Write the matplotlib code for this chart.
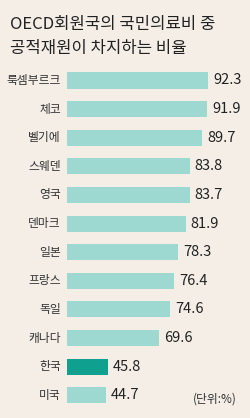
import matplotlib.pyplot as plt

plt.rcParams['font.family'] = ['Noto Sans CJK KR', 'DejaVu Sans']

countries = ['룩셈부르크', '체코', '벨기에', '스웨덴', '영국', '덴마크',
             '일본', '프랑스', '독일', '캐나다', '한국', '미국']
values = [92.3, 91.9, 89.7, 83.8, 83.7, 81.9, 78.3, 76.4, 74.6, 69.6, 45.8, 44.7]

bg = '#f4eee7'
light = '#9ed9d1'
dark = '#10a08f'

W, H = 250, 418
fig = plt.figure(figsize=(W / 100, H / 100), dpi=100, facecolor=bg)

# axes placed in pixel terms
left, right, top, bottom = 67, 240, 66, 410
ax = fig.add_axes([left / W, 1 - bottom / H, (right - left) / W, (bottom - top) / H])
ax.set_facecolor(bg)

x0 = 26.7
scale = 2.15  # px per unit
ax.set_xlim(x0, x0 + (right - left) / scale)
step = 28.62
ax.set_ylim(11 + (bottom - 395.3) / step, -(80.5 - top) / step)

ypos = list(range(len(countries)))
colors = [dark if c == '한국' else light for c in countries]
ax.barh(ypos, values, left=0, height=0.56, color=colors)

for y, c, v in zip(ypos, countries, values):
    ax.text(x0 - 2.8, y, c, ha='right', va='center', fontsize=8.5, color='#333333')
    ax.text(v + 2.3, y, f'{v}', ha='left', va='center', fontsize=10.5, color='#222222')

ax.axis('off')

fig.text(10 / W, 1 - 25 / H, 'OECD회원국의 국민의료비 중', fontsize=12,
         fontweight='medium', ha='left', va='center', color='#222222')
fig.text(10 / W, 1 - 48 / H, '공적재원이 차지하는 비율', fontsize=12,
         fontweight='medium', ha='left', va='center', color='#222222')
fig.text(237 / W, 1 - 399 / H, '(단위:%)', fontsize=8.5, ha='right', va='center',
         color='#333333')

fig.savefig('out.png', dpi=100, facecolor=bg)
